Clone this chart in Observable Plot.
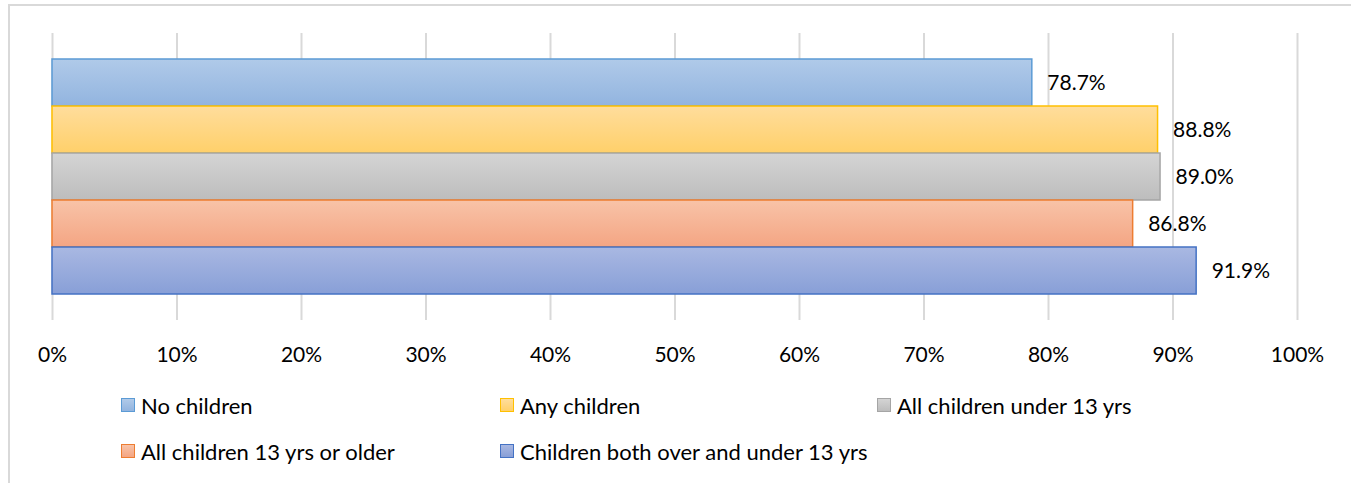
<!DOCTYPE html>
<html>
<head>
<meta charset="utf-8">
<script src="https://cdn.jsdelivr.net/npm/d3@7"></script>
<script src="https://cdn.jsdelivr.net/npm/@observablehq/plot@0.6"></script>
<style>
  html, body { margin: 0; padding: 0; background: #fff; }
  #wrap { position: relative; width: 1351px; height: 483px; overflow: hidden; font-family: Lato, "Noto Sans", sans-serif; }
  #frame { position: absolute; left: 8px; top: 4px; width: 1400px; height: 500px; border-left: 2px solid #d9d9d9; border-top: 2px solid #d9d9d9; box-sizing: border-box; }
  #chart { position: absolute; left: 0; top: 0; }
  #legend { position: absolute; left: 121px; top: 390px; display: grid; grid-template-columns: 379px 377px 300px; grid-auto-rows: 46px; font-size: 22px; color: #000; }
  .item { display: flex; align-items: center; height: 30px; white-space: nowrap; }
  .sw { width: 12px; height: 12px; margin-right: 6px; box-sizing: content-box; }
</style>
</head>
<body>
<div id="wrap">
  <div id="frame"></div>
  <div id="chart"></div>
  <div id="legend"></div>
</div>
<script>
const series = ["No children", "Any children", "All children under 13 yrs", "All children 13 yrs or older", "Children both over and under 13 yrs"];
const values = [0.787, 0.888, 0.890, 0.868, 0.919];
const labels = ["78.7%", "88.8%", "89.0%", "86.8%", "91.9%"];
const xTicks = [0, 0.1, 0.2, 0.3, 0.4, 0.5, 0.6, 0.7, 0.8, 0.9, 1.0];
const tickLabels = ["0%", "10%", "20%", "30%", "40%", "50%", "60%", "70%", "80%", "90%", "100%"];
const gradTop = ["#b0cae9", "#ffdd9c", "#d4d4d4", "#f8c3a8", "#a9b8e2"];
const gradBottom = ["#92b4df", "#ffd06a", "#bdbdbd", "#f4a583", "#889fd7"];
const strokes = ["#5b9bd5", "#ffc000", "#a5a5a5", "#ed7d31", "#4472c4"];

const data = series.map((s, i) => ({series: s, value: values[i], label: labels[i], idx: i}));

const chart = Plot.plot({
  width: 1351,
  height: 380,
  marginLeft: 52,
  marginRight: 54,
  marginTop: 33,
  marginBottom: 60,
  style: {fontFamily: "Lato, 'Noto Sans', sans-serif", fontSize: "21px", color: "#000", background: "transparent"},
  x: {domain: [0, 1], ticks: xTicks, label: null},
  y: {domain: series, paddingInner: 0, paddingOuter: 0.5, axis: null},
  marks: [
    Plot.gridX(xTicks, {stroke: "#d9d9d9", strokeOpacity: 1, strokeWidth: 2}),
    Plot.axisX({ticks: xTicks, tickSize: 0, tickPadding: 27, label: null, tickFormat: (d) => tickLabels[xTicks.indexOf(d)], fontSize: 21, fill: "#000"}),
    Plot.barX(data, {x: "value", y: "series", fill: (d) => `url(#grad${d.idx})`, stroke: (d) => strokes[d.idx], strokeWidth: 1.5}),
    Plot.text(data, {x: "value", y: "series", text: "label", textAnchor: "start", dx: 15, fontSize: 21, fill: "#000"})
  ]
});

// gradient definitions
const ns = "http://www.w3.org/2000/svg";
const defs = document.createElementNS(ns, "defs");
series.forEach((s, i) => {
  const g = document.createElementNS(ns, "linearGradient");
  g.setAttribute("id", "grad" + i);
  g.setAttribute("x1", "0"); g.setAttribute("y1", "0");
  g.setAttribute("x2", "0"); g.setAttribute("y2", "1");
  const s1 = document.createElementNS(ns, "stop");
  s1.setAttribute("offset", "0"); s1.setAttribute("stop-color", gradTop[i]);
  const s2 = document.createElementNS(ns, "stop");
  s2.setAttribute("offset", "1"); s2.setAttribute("stop-color", gradBottom[i]);
  g.appendChild(s1); g.appendChild(s2);
  defs.appendChild(g);
});
chart.insertBefore(defs, chart.firstChild);
document.getElementById("chart").appendChild(chart);

// legend
const legend = document.getElementById("legend");
series.forEach((name, i) => {
  const it = document.createElement("div");
  it.className = "item";
  const sw = document.createElement("span");
  sw.className = "sw";
  sw.style.background = `linear-gradient(${gradTop[i]}, ${gradBottom[i]})`;
  sw.style.border = `1px solid ${strokes[i]}`;
  const t = document.createElement("span");
  t.textContent = name;
  it.appendChild(sw); it.appendChild(t);
  legend.appendChild(it);
});
</script>
</body>
</html>
